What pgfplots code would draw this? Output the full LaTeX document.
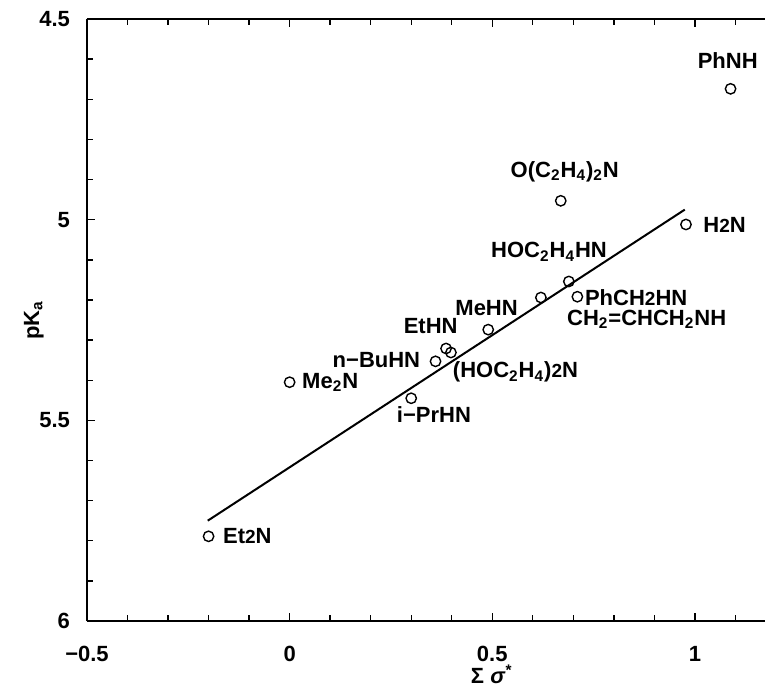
\documentclass[border=0pt]{standalone}
\usepackage{pgfplots}
\pgfplotsset{compat=1.18}
\usepackage{fontspec}
\setmainfont{Liberation Sans}
\newcommand{\lab}{\fontsize{11}{13}\selectfont\bfseries}
\newcommand{\sm}{\fontsize{9.5}{12}\selectfont}

\begin{document}
\begin{tikzpicture}
\begin{axis}[
  name=ax, scale only axis, width=339pt, height=301pt,
  xmin=-0.5, xmax=1.173, ymin=4.5, ymax=6, y dir=reverse,
  axis x line=box, axis y line=left, axis line style={-, line width=0.8pt},
  xtick={-0.5,0,0.5,1}, xticklabels={−0.5,0,0.5,1},
  minor xtick={-0.4,-0.3,-0.2,-0.1,0.1,0.2,0.3,0.4,0.6,0.7,0.8,0.9,1.1},
  ytick={4.5,5,5.5,6}, yticklabels={4.5,5,5.5,6},
  minor ytick={4.6,4.7,4.8,4.9,5.1,5.2,5.3,5.4,5.6,5.7,5.8,5.9},
  tick align=inside, major tick length=4pt, minor tick length=3pt,
  tick style={black, line width=0.7pt},
  tick label style={font=\lab},
  xticklabel style={yshift=-9pt},
  yticklabel style={xshift=-5pt},
  xlabel={Σ \textit{σ}\textsuperscript{*}},
  ylabel={pK\textsubscript{a}},
  label style={font=\lab},
  xlabel style={at={(ticklabel cs:0.597)}, anchor=north, yshift=5pt},
  ylabel shift=-9pt,
  clip=false,
]
% observed points
\addplot[only marks, mark=o, mark size=2.6pt, mark options={line width=0.7pt, black}] coordinates {
  (1.088,4.674) (0.669,4.953) (0.978,5.012) (0.689,5.154) (0.710,5.192)
  (0.620,5.194) (0.490,5.274) (0.386,5.321) (0.398,5.331) (0.360,5.353)
  (0.000,5.405) (0.300,5.445) (-0.200,5.789)
};
% regression line
\addplot[black, line width=1pt] coordinates {(-0.202,5.750) (0.975,4.975)};

\begin{scope}[every node/.style={font=\lab, inner sep=0pt}]
\node at (axis cs:1.081,4.604) {PhNH};
\node at (axis cs:0.679,4.881) {O(C\textsubscript{2}H\textsubscript{4})\textsubscript{2}N};
\node[anchor=west] at (axis cs:1.020,5.012) {H{\sm 2}N};
\node at (axis cs:0.640,5.080) {HOC\textsubscript{2}H\textsubscript{4}HN};
\node[anchor=west] at (axis cs:0.728,5.194) {PhCH{\sm 2}HN};
\node at (axis cs:0.881,5.249) {CH\textsubscript{2}=CHCH\textsubscript{2}NH};
\node at (axis cs:0.486,5.219) {MeHN};
\node at (axis cs:0.348,5.266) {EtHN};
\node[anchor=east] at (axis cs:0.323,5.351) {n−BuHN};
\node[anchor=west] at (axis cs:0.402,5.380) {(HOC\textsubscript{2}H\textsubscript{4}){\sm 2}N};
\node[anchor=west] at (axis cs:0.030,5.405) {Me\textsubscript{2}N};
\node at (axis cs:0.356,5.485) {i−PrHN};
\node[anchor=west] at (axis cs:-0.165,5.789) {Et{\sm 2}N};
\end{scope}
\end{axis}
\pgfresetboundingbox
\path ([shift={(-43.5pt,-34pt)}]ax.south west) rectangle ([shift={(0pt,9.5pt)}]ax.north east);
\end{tikzpicture}
\end{document}
